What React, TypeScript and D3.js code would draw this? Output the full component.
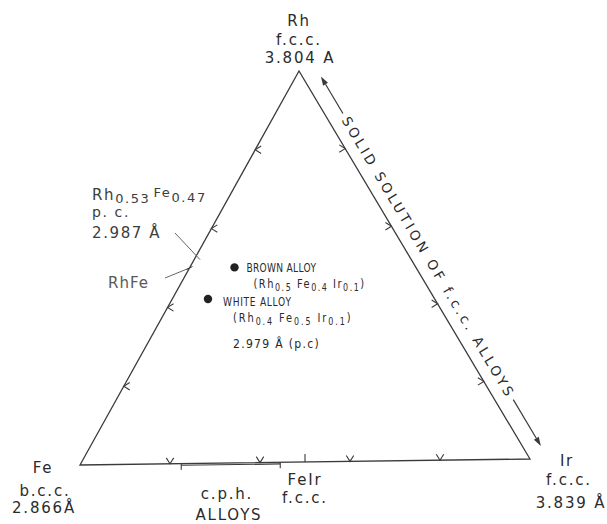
import React from "react";
import * as d3 from "d3";

const W = 607;
const H = 524;

// ---- data ----
const components = ["Rh", "Fe", "Ir"];
const structures = ["f.c.c.", "b.c.c.", "f.c.c."];
const latticeParams = ["3.804 A", "2.866Å", "3.839 Å"];
const tickFractions = [0.2, 0.4, 0.6, 0.8];
const cphRange = [0.225, 0.445]; // Ir fraction along Fe–Ir edge
const feIrFraction = 0.5;
const rhFeFraction = 0.5;
const rh53Fraction = 0.53;
const alloyNames = ["BROWN ALLOY", "WHITE ALLOY"];
const alloyRh = [0.5, 0.42];
const alloyFe = [0.4, 0.5];
const alloyIr = [0.1, 0.08];
const formulaRh = ["0.5", "0.4"];
const formulaFe = ["0.4", "0.5"];
const formulaIr = ["0.1", "0.1"];
const whiteLattice = "2.979 Å (p.c)";
const solidSolutionLabel = "SOLID SOLUTION OF f.c.c. ALLOYS";

// ---- layout ----
const VX = [299, 80, 530]; // Rh, Fe, Ir
const VY = [71, 465, 459];
const INK = "#2b2b2b";
const LINE = "#3a3a3a";
const FONT = "'DejaVu Sans', sans-serif";

function tern(rh: number, fe: number, ir: number): [number, number] {
  const s = rh + fe + ir;
  return [
    (rh * VX[0] + fe * VX[1] + ir * VX[2]) / s,
    (rh * VY[0] + fe * VY[1] + ir * VY[2]) / s,
  ];
}

function chevron(p: [number, number], angleDeg: number, len = 7, half = 32) {
  const a1 = ((angleDeg - half) * Math.PI) / 180;
  const a2 = ((angleDeg + half) * Math.PI) / 180;
  const path = d3.path();
  path.moveTo(p[0] + len * Math.cos(a1), p[1] + len * Math.sin(a1));
  path.lineTo(p[0], p[1]);
  path.lineTo(p[0] + len * Math.cos(a2), p[1] + len * Math.sin(a2));
  return path.toString();
}

function arrow(from: [number, number], to: [number, number]) {
  const dx = to[0] - from[0];
  const dy = to[1] - from[1];
  const l = Math.hypot(dx, dy);
  const ux = dx / l, uy = dy / l;
  const bx = to[0] - ux * 9, by = to[1] - uy * 9;
  const px = -uy * 2.8, py = ux * 2.8;
  return (
    <g>
      <line x1={from[0]} y1={from[1]} x2={bx} y2={by} stroke={LINE} strokeWidth={1.2} />
      <polygon points={`${to[0]},${to[1]} ${bx + px},${by + py} ${bx - px},${by - py}`} fill={LINE} />
    </g>
  );
}

function Formula({ x, y, scale, spacing, rhv, fev, irv }: any) {
  return (
    <g transform={`translate(${x},${y}) scale(${scale},1)`}>
      <text fontSize={13} letterSpacing={spacing}>
        (Rh<tspan fontSize={10.5} dy={3}>{rhv}</tspan>
        <tspan dy={-3}> Fe</tspan>
        <tspan fontSize={10.5} dy={3}>{fev}</tspan>
        <tspan dy={-3}> Ir</tspan>
        <tspan fontSize={10.5} dy={3}>{irv}</tspan>
        <tspan dy={-3}>)</tspan>
      </text>
    </g>
  );
}

export default function App() {
  const rh: [number, number] = tern(1, 0, 0);
  const fe: [number, number] = tern(0, 1, 0);
  const ir: [number, number] = tern(0, 0, 1);

  // right edge frame
  const edgeLen = Math.hypot(ir[0] - rh[0], ir[1] - rh[1]);
  const d = [(ir[0] - rh[0]) / edgeLen, (ir[1] - rh[1]) / edgeLen];
  const n = [d[1], -d[0]];
  const rp = (along: number, normal: number): [number, number] => [
    rh[0] + d[0] * along + n[0] * normal,
    rh[1] + d[1] * along + n[1] * normal,
  ];
  const rightAngle = (Math.atan2(d[1], d[0]) * 180) / Math.PI;

  const rhFeP = tern(rhFeFraction, 1 - rhFeFraction, 0);
  const rh53P = tern(rh53Fraction, 1 - rh53Fraction, 0);
  const feIrP = tern(0, 1 - feIrFraction, feIrFraction);
  const cphA = tern(0, 1 - cphRange[0], cphRange[0]);
  const cphB = tern(0, 1 - cphRange[1], cphRange[1]);

  const textStart = rp(64, 11);
  const alloyPts = alloyRh.map((r, i) => tern(r, alloyFe[i], alloyIr[i]));

  return (
    <svg width={W} height={H} style={{ position: "absolute", left: 0, top: 0, background: "#fff" }} fontFamily={FONT}>
      <rect width={W} height={H} fill="#fff" />
      {/* triangle */}
      <polygon
        points={[rh, fe, ir].map((p) => p.join(",")).join(" ")}
        fill="none"
        stroke={LINE}
        strokeWidth={1.3}
        strokeLinejoin="miter"
      />

      {/* ticks */}
      {tickFractions.map((f, i) => (
        <path key={"l" + i} d={chevron(tern(f, 1 - f, 0), 0)} fill="none" stroke={LINE} strokeWidth={1.1} />
      ))}
      {tickFractions.map((f, i) => (
        <path key={"b" + i} d={chevron(tern(0, 1 - f, f), -90)} fill="none" stroke={LINE} strokeWidth={1.1} />
      ))}
      {tickFractions.map((f, i) => (
        <path key={"r" + i} d={chevron(tern(1 - f, 0, f), 180)} fill="none" stroke={LINE} strokeWidth={1.1} />
      ))}

      {/* c.p.h. range */}
      <line x1={cphA[0]} y1={cphA[1] + 1.6} x2={cphB[0]} y2={cphB[1] + 1.6} stroke={LINE} strokeWidth={1.2} />
      <line x1={cphA[0]} y1={cphA[1]} x2={cphA[0]} y2={cphA[1] + 6} stroke={LINE} strokeWidth={1.1} />
      <line x1={cphB[0]} y1={cphB[1]} x2={cphB[0]} y2={cphB[1] + 6} stroke={LINE} strokeWidth={1.1} />
      {/* FeIr mark */}
      <line x1={feIrP[0]} y1={feIrP[1] - 8} x2={feIrP[0]} y2={feIrP[1]} stroke={LINE} strokeWidth={1.1} />

      {/* RhFe mark */}
      <line x1={165} y1={278} x2={rhFeP[0] + 1.5} y2={rhFeP[1] - 0.6} stroke="#666" strokeWidth={1} />
      <line x1={rhFeP[0] - 3} y1={rhFeP[1] + 1.5} x2={rhFeP[0] + 3} y2={rhFeP[1] - 1.5} stroke={LINE} strokeWidth={1} />
      {/* Rh0.53Fe0.47 leader */}
      <line x1={175} y1={233} x2={rh53P[0] + 4} y2={rh53P[1] + 3.5} stroke="#666" strokeWidth={1} />

      {/* solid solution arrows & label */}
      {arrow(rp(59, 16), rp(16, 16))}
      {arrow(rp(392, 16), rp(446, 16))}
      <text
        x={0}
        y={0}
        transform={`translate(${textStart[0]},${textStart[1]}) rotate(${rightAngle})`}
        fontSize={13.5}
        fill={INK}
        textLength={322}
        lengthAdjust="spacing"
      >
        {solidSolutionLabel}
      </text>

      {/* vertex labels */}
      <g fill={INK} fontSize={15} letterSpacing={1.8} textAnchor="middle">
        <text x={299} y={26}>{components[0]}</text>
        <text x={299} y={45}>{structures[0]}</text>
        <text x={300} y={63}>{latticeParams[0]}</text>

        <text x={43} y={473}>{components[1]}</text>
        <text x={45} y={496}>{structures[1]}</text>
        <text x={44} y={513}>{latticeParams[1]}</text>

        <text x={567} y={466}>{components[2]}</text>
        <text x={569} y={485}>{structures[2]}</text>
        <text x={571} y={508}>{latticeParams[2]}</text>

        <text x={305} y={485}>{components[1] + components[2]}</text>
        <text x={305} y={503}>f.c.c.</text>

        <text x={227} y={499}>c.p.h.</text>
        <text x={229} y={520}>ALLOYS</text>
      </g>

      {/* Rh0.53Fe0.47 label */}
      <g fill="#3d3d3d" letterSpacing={1.6}>
        <text x={92} y={200} fontSize={15}>
          Rh
          <tspan fontSize={13} dy={3}>0.53</tspan>
          <tspan fontSize={13} dx={3} dy={-6}>Fe</tspan>
          <tspan fontSize={13} dy={5}>0.47</tspan>
        </text>
        <text x={92} y={217} fontSize={14}>p. c.</text>
        <text x={92} y={238} fontSize={15}>2.987 Å</text>
      </g>
      <text x={108} y={288} fontSize={15} fill="#5a5a5a" letterSpacing={1}>
        RhFe
      </text>

      {/* alloys */}
      {alloyPts.map((p, i) => (
        <circle key={"a" + i} cx={p[0]} cy={p[1]} r={4.2} fill="#222" />
      ))}
      <g fill={INK}>
        <g transform={`translate(${alloyPts[0][0] + 12},${alloyPts[0][1] + 5}) scale(0.7,1)`}>
          <text fontSize={13} letterSpacing={0.4}>{alloyNames[0]}</text>
        </g>
        <Formula x={alloyPts[0][0] + 19} y={alloyPts[0][1] + 21} scale={0.76} spacing={2}
          rhv={formulaRh[0]} fev={formulaFe[0]} irv={formulaIr[0]} />
        <g transform={`translate(${alloyPts[1][0] + 15},${alloyPts[1][1] + 7}) scale(0.7,1)`}>
          <text fontSize={13} letterSpacing={1}>{alloyNames[1]}</text>
        </g>
        <Formula x={alloyPts[1][0] + 25} y={alloyPts[1][1] + 23} scale={0.76} spacing={2.5}
          rhv={formulaRh[1]} fev={formulaFe[1]} irv={formulaIr[1]} />
        <g transform={`translate(${alloyPts[1][0] + 25},${alloyPts[1][1] + 49}) scale(0.84,1)`}>
          <text fontSize={13} letterSpacing={1.5}>{whiteLattice}</text>
        </g>
      </g>
    </svg>
  );
}
